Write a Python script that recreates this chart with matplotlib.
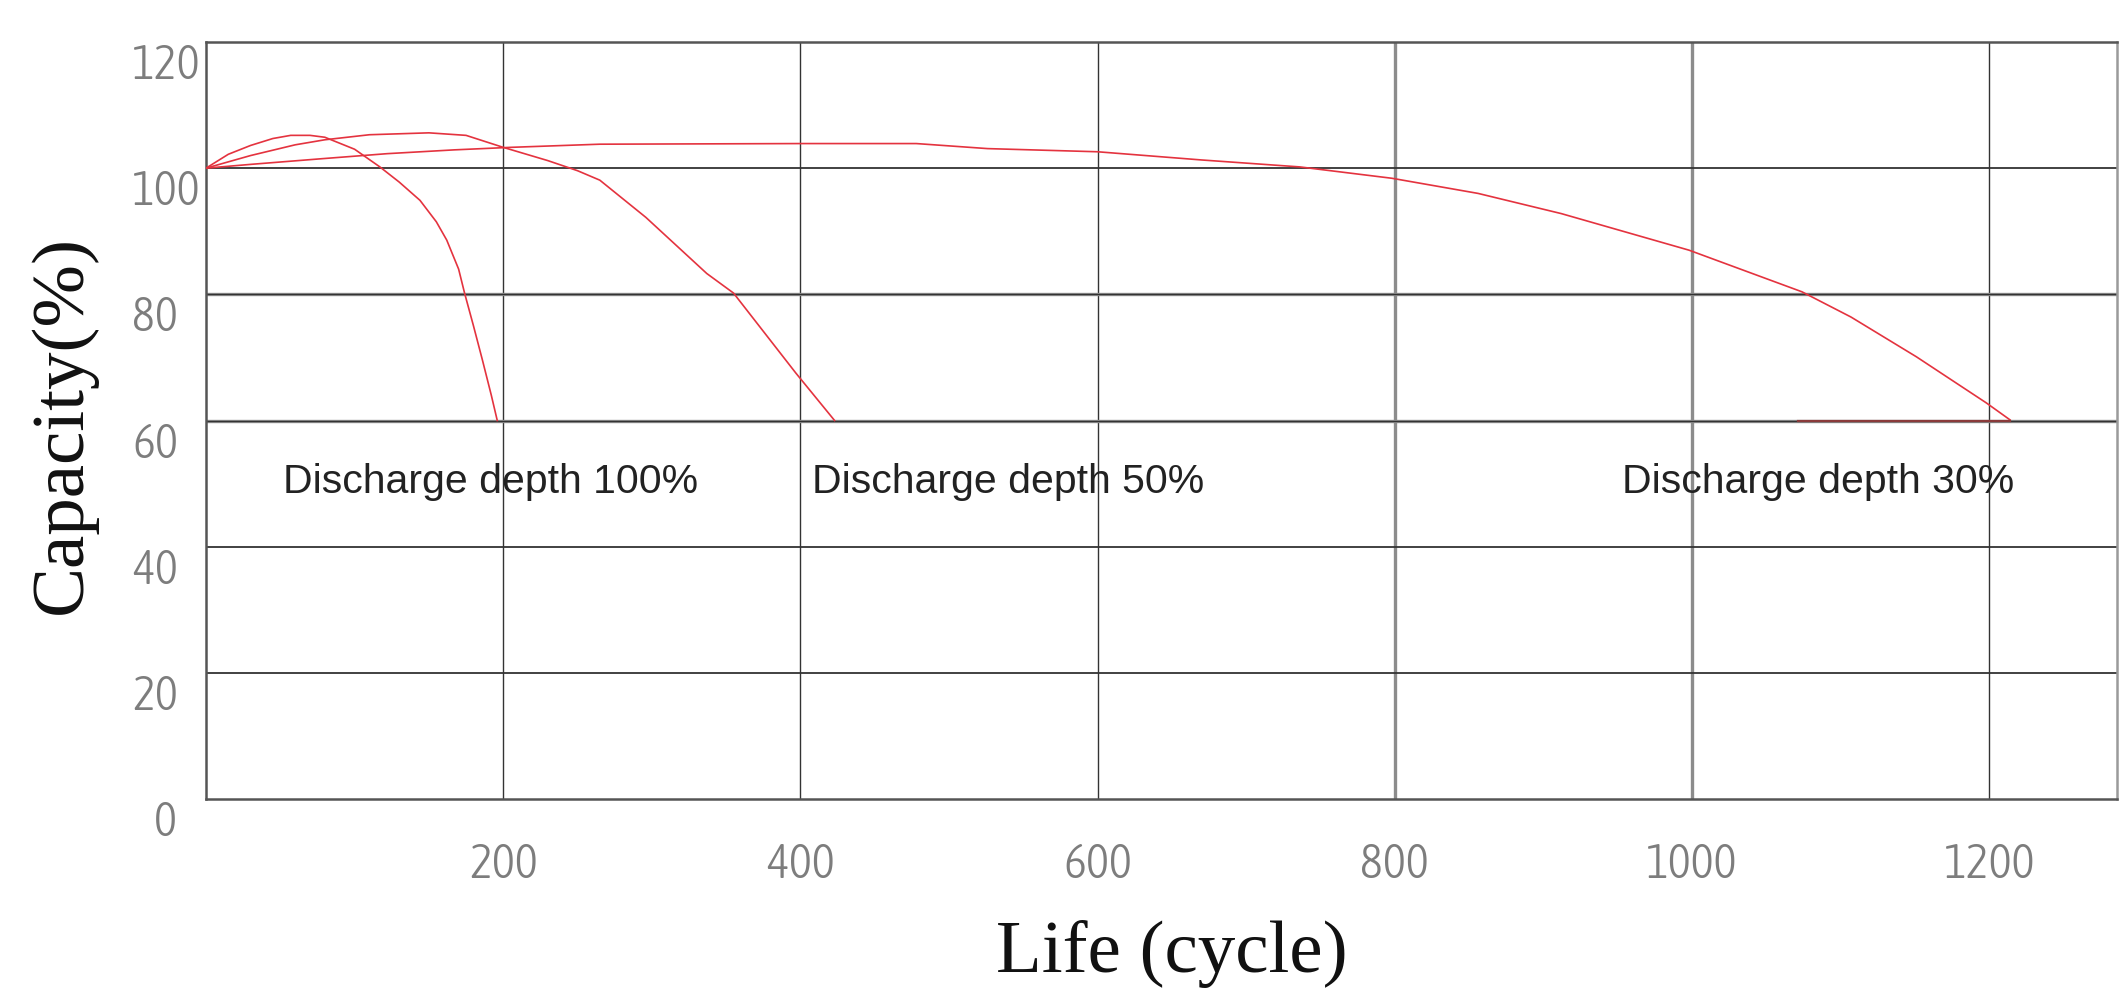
import matplotlib
matplotlib.use("Agg")
import matplotlib.pyplot as plt
from matplotlib import font_manager
from matplotlib.font_manager import FontProperties

# ---- data ----
x_100 = [0, 15, 30, 45, 57, 70, 80, 100, 117, 130, 144, 155, 162, 170, 174, 180, 186, 192, 196]
y_100 = [100, 102.2, 103.6, 104.7, 105.2, 105.2, 104.9, 103.0, 100.2, 97.8, 94.9, 91.5, 88.6, 84.0, 80.2, 75.0, 69.6, 64.0, 60.0]

x_50 = [0, 30, 60, 80, 110, 150, 175, 200, 230, 250, 265, 296, 337, 355, 397, 423]
y_50 = [100, 102.0, 103.7, 104.5, 105.3, 105.6, 105.2, 103.3, 101.2, 99.6, 98.1, 92.2, 83.3, 80.2, 67.5, 60.0]

x_30 = [0, 30, 78, 122, 167, 205, 265, 400, 478, 526, 600, 670, 736, 798, 856, 912, 998, 1074, 1107, 1151, 1198, 1214]
y_30 = [100, 100.6, 101.5, 102.3, 102.9, 103.3, 103.8, 103.9, 103.9, 103.1, 102.6, 101.3, 100.2, 98.4, 96.0, 92.8, 87.0, 80.4, 76.4, 70.1, 62.8, 60.1]

end_x = [1071, 1214]
end_y = [60, 60]

labels = ["Discharge depth 100%", "Discharge depth 50%", "Discharge depth 30%"]
label_x = [52, 408, 953]
label_y = [48.5, 48.5, 48.5]

xticks = [200, 400, 600, 800, 1000, 1200]
yticks = [0, 20, 40, 60, 80, 100, 120]

# ---- fonts ----
names = {f.name for f in font_manager.fontManager.ttflist}
serif = "Liberation Serif" if "Liberation Serif" in names else "DejaVu Serif"
sans = "Liberation Sans" if "Liberation Sans" in names else "DejaVu Sans"


def _w(v):
    if isinstance(v, str):
        return font_manager.weight_dict.get(v, 400)
    return v


cands = []
for f in font_manager.fontManager.ttflist:
    nm = f.name
    st = f.stretch
    narrow = ("Narrow" in nm) or ("Condensed" in nm) or (
        isinstance(st, str) and "condensed" in st and "semi" not in st) or (
        isinstance(st, int) and st < 500)
    if narrow and f.style == "normal" and "Serif" not in nm and "Mono" not in nm and "CJK" not in nm:
        score = abs(_w(f.weight) - 320) + (0 if "Narrow" in nm else 50)
        cands.append((score, f.fname))
cands.sort()
if cands:
    tick_fp = FontProperties(fname=cands[0][1], size=35)
else:
    tick_fp = FontProperties(family="DejaVu Sans", size=30)

W, H = 2120, 992
fig = plt.figure(figsize=(W / 100, H / 100), dpi=100)
L, R, T, B = 206, 2117, 42, 799
ax = fig.add_axes([L / W, (H - B) / H, (R - L) / W, (B - T) / H])

ax.set_xlim(0, 1286)
ax.set_ylim(0, 120)

red = "#e4333f"
ax.plot(x_100, y_100, color=red, lw=1.2, zorder=3)
ax.plot(x_50, y_50, color=red, lw=1.2, zorder=3)
ax.plot(x_30, y_30, color=red, lw=1.2, zorder=3)
ax.plot(end_x, end_y, color="#8a3a3a", lw=1.6, zorder=3)

# grid
grid_dark = "#333333"
grid_gray = "#8c8c8c"
for xv in xticks:
    if xv in (800, 1000):
        ax.axvline(xv, color=grid_gray, lw=2.4, zorder=1)
    else:
        ax.axvline(xv, color=grid_dark, lw=1.0, zorder=1)
for yv in yticks[1:-1]:
    if yv in (80, 60):
        ax.axhline(yv, color=grid_gray, lw=2.4, zorder=1)
        ax.axhline(yv, color=grid_dark, lw=0.9, zorder=1)
    else:
        ax.axhline(yv, color=grid_dark, lw=1.3, zorder=1)

for side in ["left", "right", "top", "bottom"]:
    ax.spines[side].set_color("#555555")
    ax.spines[side].set_linewidth(1.8)
ax.spines["right"].set_color("#9a9a9a")

# ticks
ax.set_xticks(xticks)
ax.set_xticklabels([str(v) for v in xticks])
ax.set_yticks(yticks)
ax.set_yticklabels([str(v) for v in yticks])
ax.tick_params(axis="both", length=0, colors="#7d7d7d")
ax.tick_params(axis="x", pad=30)
ax.tick_params(axis="y", pad=53)
for lab in ax.get_yticklabels():
    lab.set_fontproperties(tick_fp)
    lab.set_horizontalalignment("left")
    lab.set_verticalalignment("top")
for lab in ax.get_xticklabels():
    lab.set_fontproperties(tick_fp)
# the "0" label sits centred a little closer to the axis
zero_tick = ax.yaxis.get_major_ticks()[0]
zero_tick.set_pad(29)
zero_tick.label1.set_horizontalalignment("center")

# discharge labels
for s, lx, ly in zip(labels, label_x, label_y):
    ax.text(lx, ly, s, fontsize=29.5, family=sans, color="#222222",
            ha="left", va="baseline", zorder=4)

# axis labels
ax.set_xlabel("Life (cycle)", fontsize=54, family=serif, color="#111111")
ax.xaxis.set_label_coords(0.5055, -0.16)
ax.set_ylabel("Capacity(%)", fontsize=54, family=serif, color="#111111")
ax.yaxis.set_label_coords(-0.057, 0.495)

fig.savefig("out.png", dpi=100, facecolor="white")
